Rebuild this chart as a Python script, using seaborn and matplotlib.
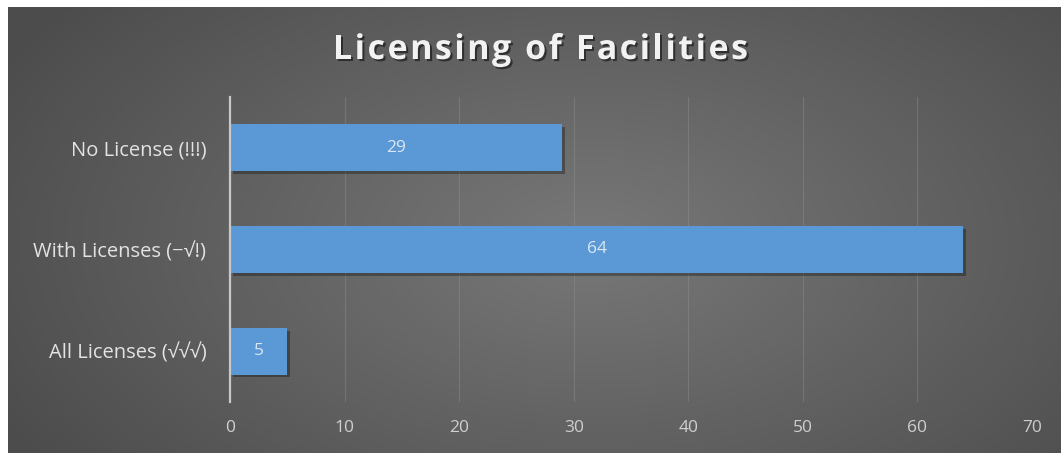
import numpy as np
import pandas as pd
import matplotlib
matplotlib.use("Agg")
import matplotlib.pyplot as plt
import matplotlib.patheffects as pe
import seaborn as sns

categories = ["No License (!!!)", "With Licenses (\u2212\u221a!)", "All Licenses (\u221a\u221a\u221a)"]
values = [29, 64, 5]
x_ticks = [0, 10, 20, 30, 40, 50, 60, 70]
title = "Licensing of Facilities"

df = pd.DataFrame({"category": categories, "value": values})

sns.set_theme(style="white")
plt.rcParams["font.family"] = ["Open Sans", "DejaVu Sans"]

W, H = 1061, 453
fig = plt.figure(figsize=(W / 100, H / 100), dpi=100)
fig.patch.set_facecolor("white")

# background with radial gradient (inset for white border at left/top)
bg = fig.add_axes([8 / W, 0, 1 - 8 / W, 1 - 7 / H])
bg.set_axis_off()
yy, xx = np.mgrid[0:200, 0:470]
cx, cy = 260, 105
r = np.sqrt(((xx - cx) / 300.0) ** 2 + ((yy - cy) / 170.0) ** 2)
r = np.clip(r, 0, 1)
shade = 0.47 - 0.17 * r
img = np.dstack([shade, shade, shade])
bg.imshow(img, aspect="auto", extent=[0, 1, 0, 1], interpolation="bilinear")
bg.set_xlim(0, 1)
bg.set_ylim(0, 1)

ax = fig.add_axes([230 / W, 1 - 402 / H, (1032 - 230) / W, (402 - 97) / H])
ax.patch.set_alpha(0)
sns.barplot(data=df, x="value", y="category", orient="h", color="#5b98d6",
            width=0.46, saturation=1, ax=ax, zorder=3)
for p in ax.patches:
    p.set_edgecolor("none")
    p.set_linewidth(0)
    p.set_path_effects([pe.SimplePatchShadow(offset=(2, -2), shadow_rgbFace="black", alpha=0.3),
                        pe.Normal()])

ax.bar_label(ax.containers[0], labels=[str(v) for v in values], label_type="center",
             color="#dbe6f2", fontsize=12.5)

ax.set_xlim(0, 70)
ax.set_ylim(2.5, -0.5)
ax.set_xticks(x_ticks)
ax.set_xticklabels([str(t) for t in x_ticks])
ax.tick_params(axis="x", labelsize=12.5, length=0, pad=13)
ax.tick_params(axis="y", labelsize=14.5, length=0, pad=17)
for lbl in ax.get_yticklabels():
    lbl.set_color("#e3e3e3")
for lbl in ax.get_xticklabels():
    lbl.set_color("#cfcfcf")
ax.set_xlabel("")
ax.set_ylabel("")
for s in ["top", "right", "bottom"]:
    ax.spines[s].set_visible(False)
ax.spines["left"].set_color("#c8c8c8")
ax.spines["left"].set_linewidth(1.6)
ax.spines["left"].set_zorder(4)
ax.grid(axis="x", color="#9a9a9a", linewidth=0.8, alpha=0.35, zorder=0)
ax.grid(axis="y", visible=False)
ax.set_axisbelow(True)

# letter-spaced title
renderer = fig.canvas.get_renderer()
tkw = dict(color="#f2f2f2", fontsize=24.5, fontweight="bold", va="center", ha="left",
           path_effects=[pe.withSimplePatchShadow(offset=(1.5, -1.5), shadow_rgbFace="black", alpha=0.5)])

def char_width(ch):
    if ch == " ":
        a = fig.text(0, 0, "ii", **tkw)
        b = fig.text(0, 0, "i i", **tkw)
        w = b.get_window_extent(renderer).width - a.get_window_extent(renderer).width
        a.remove(); b.remove()
        return w
    t = fig.text(0, 0, ch, **tkw)
    w = t.get_window_extent(renderer).width
    t.remove()
    return w

widths = [char_width(c) for c in title]
target_w = 415.0
spacing = (target_w - sum(widths)) / (len(title) - 1)
x0 = 540.5 - target_w / 2
y_title = 1 - 50 / H
x = x0
for c, w in zip(title, widths):
    if c != " ":
        fig.text(x / W, y_title, c, **tkw)
    x += w + spacing

fig.savefig("out.png", dpi=100, facecolor=fig.get_facecolor())
